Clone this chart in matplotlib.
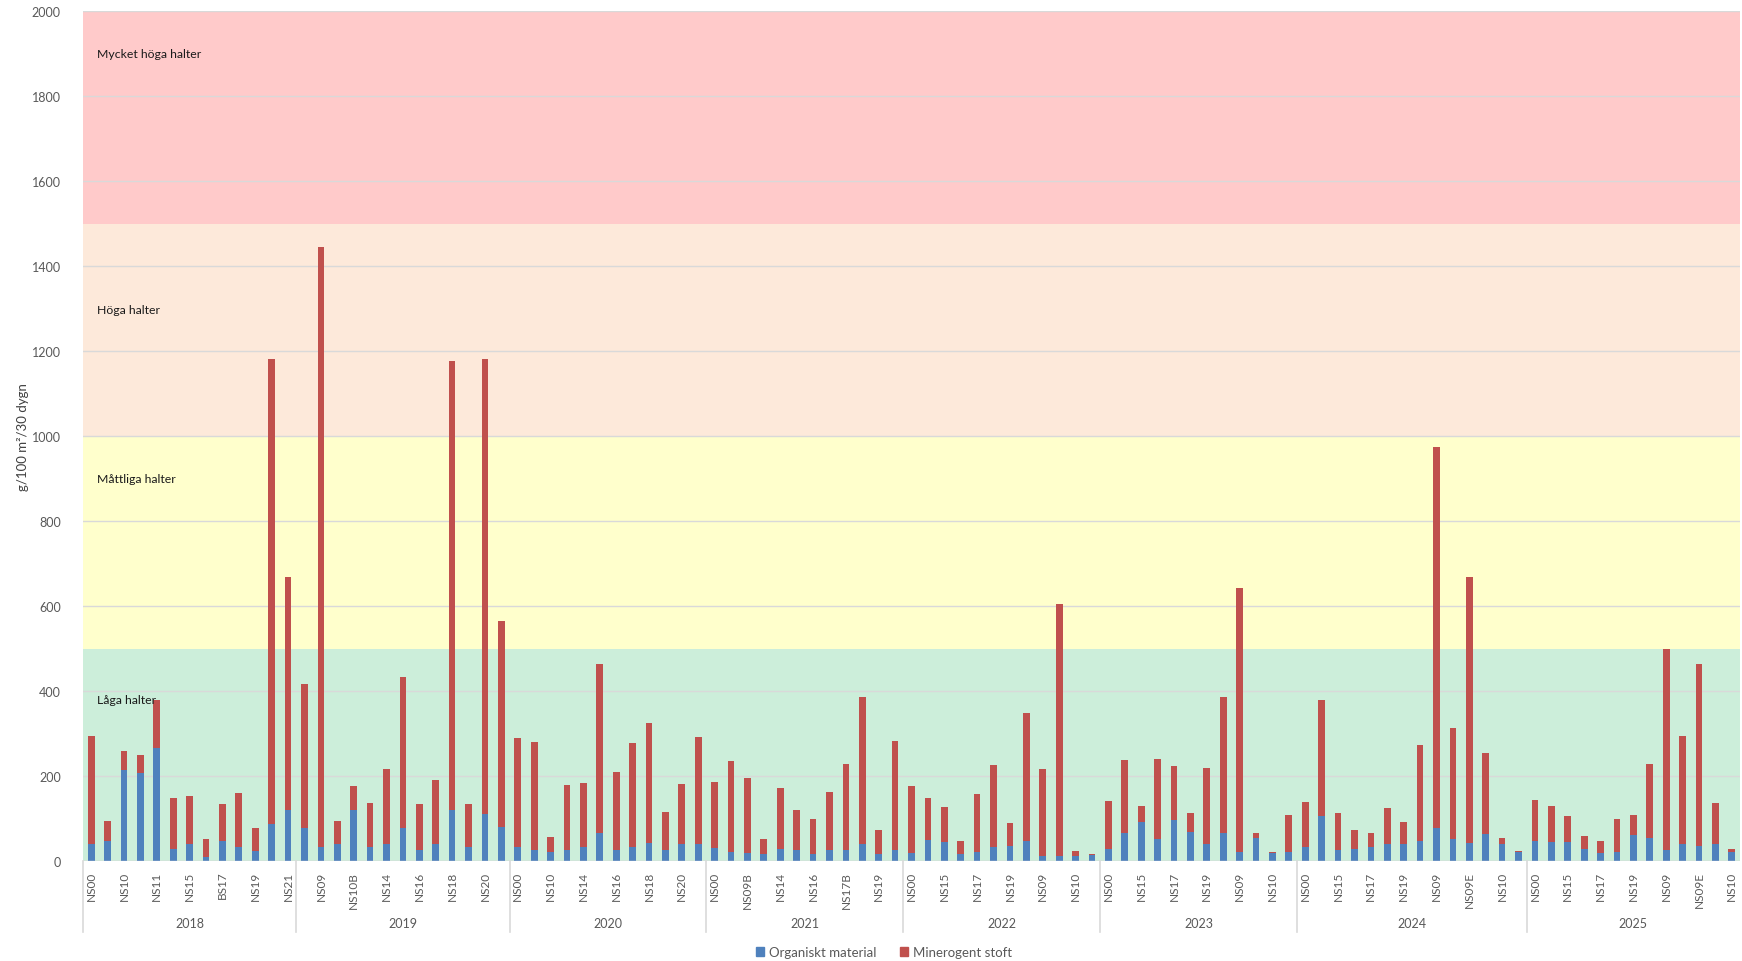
import matplotlib
matplotlib.use("Agg")
import matplotlib.pyplot as plt
import matplotlib.transforms as mtransforms
from matplotlib.patches import Patch
import numpy as np

plt.rcParams['font.family'] = ['Lato', 'DejaVu Sans']

# years and the sampling sites within each year (every other label is shown)
years = ["2018", "2019", "2020", "2021", "2022", "2023", "2024", "2025"]
sites_2018 = ["NS00", "NS09", "NS10", "NS10B", "NS11", "NS14", "NS15", "NS16", "BS17", "NS18", "NS19", "NS20", "NS21"]
sites_2019 = ["NS00", "NS09", "NS10", "NS10B", "NS11", "NS14", "NS15", "NS16", "NS17", "NS18", "NS19", "NS20", "NS21"]
sites_2020 = ["NS00", "NS09", "NS10", "NS11", "NS14", "NS15", "NS16", "NS17", "NS18", "NS19", "NS20", "NS21"]
sites_2021 = ["NS00", "NS09", "NS09B", "NS10", "NS14", "NS15", "NS16", "NS17", "NS17B", "NS18", "NS19", "NS20"]
sites_2022 = ["NS00", "NS14", "NS15", "NS16", "NS17", "NS18", "NS19", "NS20", "NS09", "NS09B", "NS10", "NS10B"]
sites_2023 = ["NS00", "NS14", "NS15", "NS16", "NS17", "NS18", "NS19", "NS20", "NS09", "NS09B", "NS10", "NS10B"]
sites_2024 = ["NS00", "NS14", "NS15", "NS16", "NS17", "NS18", "NS19", "NS20", "NS09", "NS09B", "NS09E", "NS09F", "NS10", "NS10B"]
sites_2025 = ["NS00", "NS14", "NS15", "NS16", "NS17", "NS18", "NS19", "NS20", "NS09", "NS09B", "NS09E", "NS09F", "NS10"]

# g/100 m2/30 dygn
organic = [
    40, 47, 215, 208, 266, 28, 41, 10, 48, 33, 24, 88, 121,          # 2018
    77, 34, 40, 121, 34, 40, 77, 25, 40, 121, 34, 111, 80,           # 2019
    33, 25, 22, 25, 34, 67, 26, 33, 43, 25, 39, 40,                  # 2020
    31, 21, 20, 16, 29, 25, 17, 26, 26, 39, 16, 25,                  # 2021
    20, 49, 45, 16, 21, 33, 36, 48, 12, 12, 12, 14,                  # 2022
    29, 66, 91, 52, 96, 69, 41, 66, 21, 55, 19, 21,                  # 2023
    33, 107, 25, 29, 33, 41, 41, 48, 77, 52, 43, 64, 41, 21,         # 2024
    48, 45, 45, 28, 19, 22, 61, 55, 25, 40, 36, 39, 22,              # 2025
]
mineral = [
    253, 48, 45, 42, 113, 121, 112, 41, 86, 126, 53, 1093, 547,
    340, 1411, 53, 56, 103, 177, 357, 109, 150, 1055, 100, 1070, 484,
    256, 254, 34, 153, 149, 397, 183, 244, 281, 90, 143, 251,
    154, 215, 176, 35, 143, 96, 83, 137, 202, 346, 57, 258,
    156, 100, 81, 31, 136, 194, 53, 301, 205, 593, 12, 3,
    112, 171, 39, 188, 128, 43, 177, 319, 621, 12, 2, 88,
    107, 271, 87, 44, 33, 84, 51, 225, 897, 260, 625, 191, 14, 3,
    96, 85, 61, 30, 28, 78, 48, 173, 473, 253, 428, 98, 7,
]

# assessment classes
band_edges = [0, 500, 1000, 1500, 2000]
band_names = ["Låga halter", "Måttliga halter", "Höga halter", "Mycket höga halter"]
band_label_y = [380, 900, 1298, 1900]
band_colors = ["#CCEEDA", "#FFFFCC", "#FDE9DA", "#FFCACA"]

all_sites = [sites_2018, sites_2019, sites_2020, sites_2021,
             sites_2022, sites_2023, sites_2024, sites_2025]
labels = [s for group in all_sites for s in group]
x = np.arange(len(labels))

W, H = 1742, 962
fig = plt.figure(figsize=(W / 100, H / 100), dpi=100)
ax_l, ax_r, ax_t, ax_b = 83, 1740, 12, 862
ax = fig.add_axes([ax_l / W, 1 - ax_b / H, (ax_r - ax_l) / W, (ax_b - ax_t) / H])

# background bands
for lo, hi, col, name, ty in zip(band_edges[:-1], band_edges[1:], band_colors, band_names, band_label_y):
    ax.axhspan(lo, hi, color=col, zorder=0, lw=0)
    ax.text(0.0085, ty, name, transform=mtransforms.blended_transform_factory(ax.transAxes, ax.transData),
            fontsize=8.8, color="#1a1a1a", va="center", ha="left", zorder=3)

ax.set_axisbelow(True)
ax.yaxis.grid(True, color="#D9D9D9", lw=1, zorder=1)

bw = 0.41
ax.bar(x, organic, width=bw, color="#4F81BD", zorder=2, label="Organiskt material")
ax.bar(x, mineral, width=bw, bottom=organic, color="#C0504D", zorder=2, label="Minerogent stoft")

ax.set_xlim(-0.5, len(labels) - 0.5)
ax.set_ylim(0, 2000)
ax.set_yticks(range(0, 2001, 200))
ax.tick_params(axis="y", length=0, pad=16, labelsize=9, labelcolor="#595959")

ax.set_xticks(x[::2])
ax.set_xticklabels(labels[::2], rotation=90, fontsize=8.5, color="#595959")
ax.tick_params(axis="x", length=0, pad=7)

for sp in ax.spines.values():
    sp.set_visible(False)
ax.axhline(0, color="#D9D9D9", lw=1, zorder=2)

# year groups below the site labels
ax_h = ax_b - ax_t
trans = mtransforms.blended_transform_factory(ax.transData, ax.transAxes)
start = 0
edges = [-0.5]
for yr, group in zip(years, all_sites):
    end = start + len(group)
    ax.text((start + end - 1) / 2, -62 / ax_h, yr, transform=trans, ha="center", va="center",
            fontsize=9, color="#595959")
    edges.append(end - 0.5)
    start = end
for e in edges[:-1]:
    ax.plot([e, e], [0, -71 / ax_h], transform=trans, color="#D9D9D9", lw=1.2, clip_on=False)

ax.set_ylabel("g/100 m²/30 dygn", fontsize=9.5, color="#404040")
ax.yaxis.set_label_coords(-54 / (ax_r - ax_l), 0.5)

handles = [Patch(color="#4F81BD", label="Organiskt material"),
           Patch(color="#C0504D", label="Minerogent stoft")]
fig.legend(handles=handles, loc="center", bbox_to_anchor=(884 / W, 1 - 953 / H), ncol=2,
           frameon=False, fontsize=9.5, handlelength=0.6, handleheight=0.6,
           handletextpad=0.4, columnspacing=1.8, labelcolor="#595959")

fig.savefig("out.png", dpi=100)
